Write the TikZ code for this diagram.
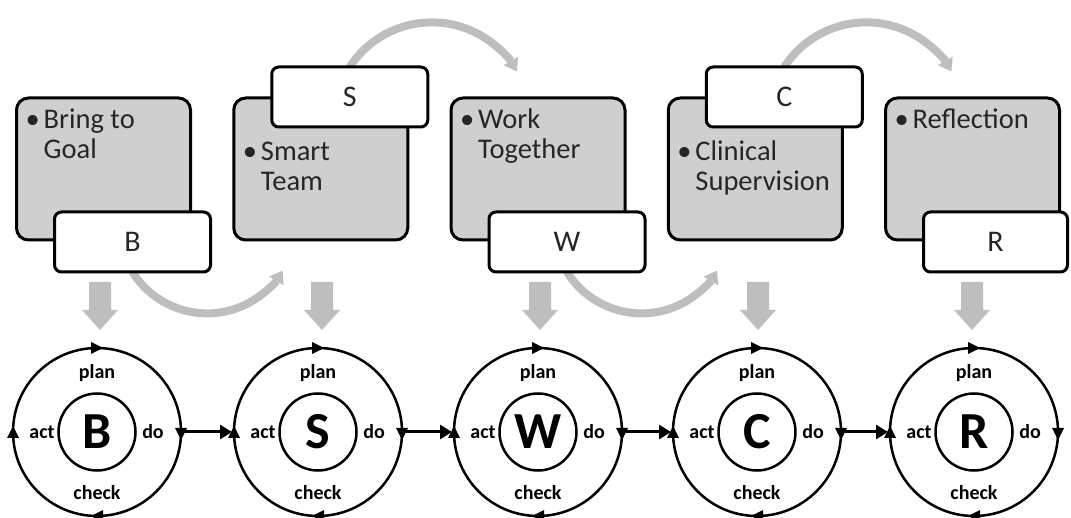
\documentclass[tikz,border=0pt]{standalone}
\usepackage{fontspec}
\setmainfont{Carlito}
\usetikzlibrary{arrows.meta,backgrounds}
\definecolor{boxgray}{RGB}{207,207,207}
\definecolor{arrgray}{RGB}{190,190,190}
\definecolor{txt}{RGB}{38,38,38}
\newcommand{\bul}[2]{\begin{tabular}{@{}l@{}l@{}}\makebox[18pt][l]{\textbullet}&#1\\&#2\end{tabular}}
\newcommand{\bulone}[1]{\begin{tabular}{@{}l@{}l@{}}\makebox[18pt][l]{\textbullet}&#1\end{tabular}}
\begin{document}
\begin{tikzpicture}[x=1pt,y=1pt,
  graybox/.style={draw=black, line width=3pt, fill=boxgray, rounded corners=12pt,
    minimum width=174pt, minimum height=142pt, inner sep=0pt, outer sep=0pt},
  letterbox/.style={draw=black, line width=3pt, fill=white, rounded corners=7pt,
    minimum width=156pt, minimum height=60pt, inner sep=0pt, outer sep=0pt,
    font=\fontsize{30}{30}\selectfont, text=txt},
  bodytext/.style={anchor=north west, inner sep=0pt, font=\fontsize{28.5}{30}\selectfont, text=txt},
  outerring/.style={circle, draw, line width=2.5pt, minimum size=168pt, inner sep=0pt, outer sep=0pt},
  innerring/.style={circle, draw, line width=2.5pt, minimum size=77pt, inner sep=0pt, outer sep=0pt,
    font=\bfseries\fontsize{52}{52}\selectfont},
  cyc/.style={inner sep=0pt, font=\bfseries\fontsize{20}{20}\selectfont},
  tick/.style={line width=2.5pt, -{Triangle[length=12pt,width=12pt,line width=0pt]}},
  flow/.style={line width=3pt, shorten <=4pt, shorten >=2pt, -{Triangle[length=12pt,width=14pt]}},
  grayarc/.style={draw=arrgray, line width=8pt, -{Triangle[length=12pt,width=17pt,line width=0pt]}}
]
\useasboundingbox (0,0) rectangle (1071,517);

% top row: gray boxes, texts, letter boxes
\node[graybox] (gB) at (103.5,348) {};
\node[bodytext] (tB) at ([xshift=9pt,yshift=-9.5pt]gB.north west) {\bul{Bring to}{Goal}};
\node[letterbox] (lB) at (132.5,275) {B};

\node[graybox] (gS) at (320.75,348) {};
\node[letterbox] (lS) at (349.75,420) {S};
\node[bodytext] (tS) at ([xshift=9pt,yshift=-41.5pt]gS.north west) {\bul{Smart}{Team}};

\node[graybox] (gW) at (538,348) {};
\node[bodytext] (tW) at ([xshift=9pt,yshift=-9.5pt]gW.north west) {\bul{Work}{Together}};
\node[letterbox] (lW) at (567,275) {W};

\node[graybox] (gC) at (755.25,348) {};
\node[letterbox] (lC) at (784.25,420) {C};
\node[bodytext] (tC) at ([xshift=9pt,yshift=-41.5pt]gC.north west) {\bul{Clinical}{Supervision}};

\node[graybox] (gR) at (972.5,348) {};
\node[bodytext] (tR) at ([xshift=9pt,yshift=-9.5pt]gR.north west) {\bulone{Reflection}};
\node[letterbox, minimum width=144pt] (lR) at (995.5,275) {R};

% curved gray arrows (behind)
\begin{scope}[on background layer]
\draw[grayarc] (lB.south) arc[start angle=212, end angle=329, radius=88];
\draw[grayarc] (lW.south) arc[start angle=212, end angle=329, radius=88];
\draw[grayarc] (lS.north) arc[start angle=147, end angle=30, radius=98];
\draw[grayarc] (lC.north) arc[start angle=147, end angle=30, radius=98];
\end{scope}

% PDCA circles
\foreach \n/\x/\dx in {B/97/3, S/318/4, W/538/2, C/757/1, R/974/-2} {
  \node[outerring] (o\n) at (\x,85) {};
  \node[innerring] (i\n) at (o\n.center) {\n};
  \node[cyc] (plan\n) at ([yshift=59pt]o\n.center) {plan};
  \node[cyc] (check\n) at ([yshift=-61pt]o\n.center) {check};
  \node[cyc] (act\n) at ([xshift=-55pt]o\n.center) {act};
  \node[cyc] (do\n) at ([xshift=56pt]o\n.center) {do};
  \draw[tick] ([xshift=-8pt]o\n.north) -- ([xshift=6pt]o\n.north);
  \draw[tick] ([yshift=6pt]o\n.east) -- ([yshift=-8pt]o\n.east);
  \draw[tick] ([xshift=8pt]o\n.south) -- ([xshift=-6pt]o\n.south);
  \draw[tick] ([yshift=-8pt]o\n.west) -- ([yshift=6pt]o\n.west);
  \fill[arrgray] ([xshift=\dx pt, yshift=66pt]o\n.north) ++(-11,0) -- ++(22,0) -- ++(0,-28)
     -- ++(7,0) -- ++(-18,-20) -- ++(-18,20) -- ++(7,0) -- cycle;
}

% flow arrows between circles
\draw[flow] (oB.east) -- (oS.west);
\draw[flow] (oS.east) -- (oW.west);
\draw[flow] (oW.east) -- (oC.west);
\draw[flow] (oC.east) -- (oR.west);
\end{tikzpicture}
\end{document}
